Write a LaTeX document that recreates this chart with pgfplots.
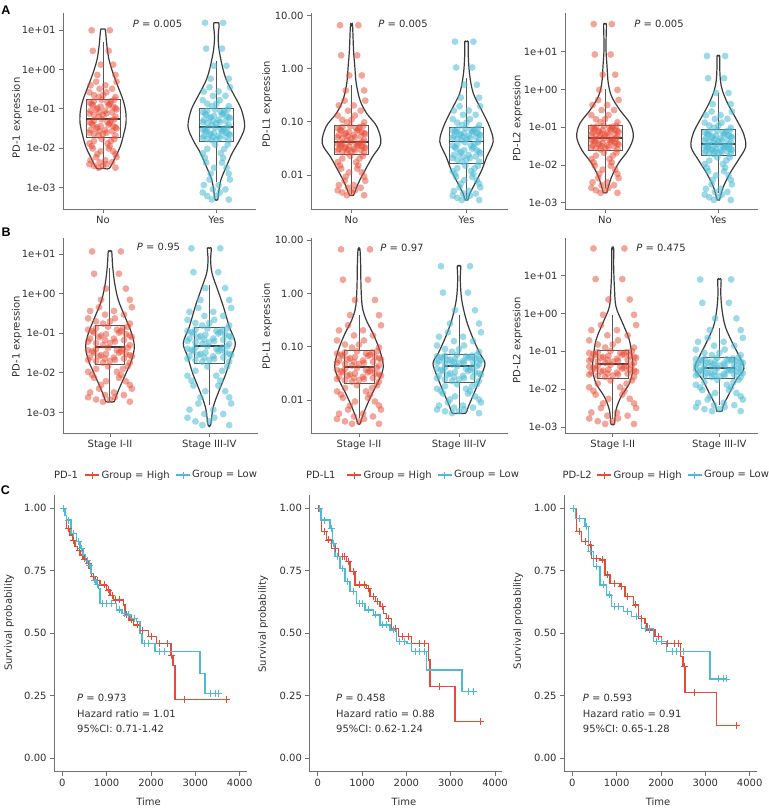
\documentclass[border=0pt]{standalone}
\usepackage{pgfplots}
\pgfplotsset{compat=1.18}
\usepackage{pgfplotstable}
\usepackage{fontspec}
\setmainfont{DejaVu Sans}[ItalicFont={DejaVu Sans Oblique},BoldFont={DejaVu Sans Bold}]
\newfontfamily\labf{Liberation Sans}
\newcommand\fs{\fontsize{10bp}{12bp}\selectfont}
\definecolor{npgred}{HTML}{E64B35}
\definecolor{npgblue}{HTML}{4DBBD5}
\definecolor{axgray}{HTML}{707070}
\definecolor{vgray}{HTML}{3A3A3A}
\definecolor{bgray}{HTML}{555555}
\definecolor{txt}{HTML}{303030}

\pgfplotstableread{
p q r s P Q R S a1n a1y a2n a2y a3n a3y b1n b1y b2n b2y b3n b3y
-0.10 0.90 0.06 1.06 -0.18 0.82 0.11 1.11 1.0 1.19 0.82 0.51 1.73 0.885 1.07 1.15 0.825 0.51 1.72 0.9
0.05 1.05 -0.09 0.91 0.09 1.09 -0.16 0.84 0.475 0.533 0.253 0.024 0.926 0.297 0.506 0.547 0.257 0.015 0.91 0.282
-0.02 0.98 0.09 1.09 -0.04 0.96 0.16 1.16 0.125 0.095 -0.125 -0.30 0.39 -0.095 0.13 0.145 -0.123 -0.315 0.37 -0.13
0.11 1.11 -0.05 0.95 0.20 1.20 -0.09 0.91 -0.138 -0.234 -0.408 -0.543 -0.012 -0.389 -0.152 -0.157 -0.407 -0.563 -0.035 -0.439
-0.06 0.94 0.12 1.12 -0.11 0.89 0.22 1.22 -0.31 -0.45 -0.60 -0.705 -0.28 -0.585 -0.34 -0.358 -0.596 -0.728 -0.305 -0.645
0.02 1.02 -0.11 0.89 0.04 1.04 -0.20 0.80 -0.40 -0.56 -0.69 -0.786 -0.414 -0.683 -0.434 -0.458 -0.691 -0.81 -0.44 -0.748
0.08 1.08 -0.03 0.97 0.14 1.14 -0.05 0.95 -0.49 -0.67 -0.79 -0.867 -0.548 -0.781 -0.528 -0.559 -0.786 -0.893 -0.575 -0.851
-0.12 0.88 0.03 1.03 -0.22 0.78 0.05 1.05 -0.58 -0.78 -0.88 -0.948 -0.682 -0.879 -0.622 -0.659 -0.88 -0.975 -0.71 -0.954
0.00 1.00 -0.08 0.92 0.00 1.00 -0.14 0.86 -0.65 -0.87 -0.96 -1.013 -0.789 -0.957 -0.697 -0.739 -0.956 -1.041 -0.818 -1.036
-0.04 0.96 0.11 1.11 -0.07 0.93 0.20 1.20 -0.70 -0.93 -1.01 -1.061 -0.87 -1.016 -0.754 -0.80 -1.013 -1.091 -0.899 -1.098
0.10 1.10 -0.01 0.99 0.18 1.18 -0.02 0.98 -0.77 -1.02 -1.08 -1.12 -0.963 -1.09 -0.832 -0.878 -1.082 -1.148 -0.994 -1.171
-0.08 0.92 0.07 1.07 -0.14 0.86 0.13 1.13 -0.805 -1.05 -1.10 -1.14 -0.986 -1.116 -0.869 -0.91 -1.104 -1.163 -1.02 -1.19
0.04 1.04 -0.12 0.88 0.07 1.07 -0.22 0.78 -0.84 -1.08 -1.12 -1.16 -1.009 -1.143 -0.907 -0.941 -1.126 -1.178 -1.045 -1.209
-0.10 0.90 0.06 1.06 -0.18 0.82 0.11 1.11 -0.875 -1.115 -1.145 -1.175 -1.033 -1.169 -0.945 -0.973 -1.148 -1.193 -1.07 -1.228
0.05 1.05 -0.09 0.91 0.09 1.09 -0.16 0.84 -0.91 -1.15 -1.165 -1.19 -1.056 -1.195 -0.983 -1.004 -1.169 -1.207 -1.095 -1.246
-0.02 0.98 0.09 1.09 -0.04 0.96 0.16 1.16 -0.945 -1.18 -1.19 -1.21 -1.079 -1.221 -1.021 -1.036 -1.191 -1.222 -1.12 -1.265
0.11 1.11 -0.05 0.95 0.20 1.20 -0.09 0.91 -0.98 -1.21 -1.21 -1.23 -1.102 -1.248 -1.058 -1.067 -1.213 -1.237 -1.146 -1.284
-0.06 0.94 0.12 1.12 -0.11 0.89 0.22 1.22 -1.015 -1.24 -1.23 -1.25 -1.125 -1.274 -1.096 -1.099 -1.234 -1.251 -1.171 -1.303
0.02 1.02 -0.11 0.89 0.04 1.04 -0.20 0.80 -1.05 -1.28 -1.25 -1.265 -1.148 -1.30 -1.134 -1.13 -1.256 -1.266 -1.196 -1.322
0.08 1.08 -0.03 0.97 0.14 1.14 -0.05 0.95 -1.085 -1.31 -1.27 -1.28 -1.171 -1.326 -1.172 -1.162 -1.278 -1.281 -1.221 -1.341
-0.12 0.88 0.03 1.03 -0.22 0.78 0.05 1.05 -1.12 -1.34 -1.29 -1.30 -1.194 -1.353 -1.21 -1.193 -1.299 -1.295 -1.246 -1.36
0.00 1.00 -0.08 0.92 0.00 1.00 -0.14 0.86 -1.155 -1.37 -1.31 -1.32 -1.217 -1.379 -1.247 -1.225 -1.321 -1.31 -1.272 -1.379
-0.04 0.96 0.11 1.11 -0.07 0.93 0.20 1.20 -1.2 -1.41 -1.34 -1.345 -1.247 -1.413 -1.296 -1.265 -1.349 -1.329 -1.304 -1.403
0.10 1.10 -0.01 0.99 0.18 1.18 -0.02 0.98 -1.27 -1.475 -1.38 -1.387 -1.294 -1.462 -1.367 -1.328 -1.392 -1.363 -1.355 -1.441
-0.08 0.92 0.07 1.07 -0.14 0.86 0.13 1.13 -1.30 -1.50 -1.395 -1.416 -1.317 -1.482 -1.398 -1.36 -1.413 -1.385 -1.381 -1.461
0.04 1.04 -0.12 0.88 0.07 1.07 -0.22 0.78 -1.34 -1.53 -1.41 -1.446 -1.341 -1.502 -1.428 -1.391 -1.434 -1.408 -1.407 -1.48
-0.10 0.90 0.06 1.06 -0.18 0.82 0.11 1.11 -1.37 -1.555 -1.43 -1.475 -1.365 -1.523 -1.459 -1.423 -1.455 -1.43 -1.433 -1.5
0.05 1.05 -0.09 0.91 0.09 1.09 -0.16 0.84 -1.40 -1.58 -1.445 -1.504 -1.389 -1.543 -1.489 -1.454 -1.476 -1.452 -1.458 -1.52
-0.02 0.98 0.09 1.09 -0.04 0.96 0.16 1.16 -1.44 -1.61 -1.46 -1.534 -1.413 -1.563 -1.52 -1.486 -1.497 -1.475 -1.484 -1.539
0.11 1.11 -0.05 0.95 0.20 1.20 -0.09 0.91 -1.47 -1.635 -1.475 -1.563 -1.436 -1.583 -1.55 -1.517 -1.518 -1.497 -1.51 -1.559
-0.06 0.94 0.12 1.12 -0.11 0.89 0.22 1.22 -1.50 -1.66 -1.49 -1.593 -1.46 -1.604 -1.581 -1.549 -1.539 -1.52 -1.536 -1.578
0.02 1.02 -0.11 0.89 0.04 1.04 -0.20 0.80 -1.54 -1.69 -1.51 -1.622 -1.484 -1.624 -1.611 -1.58 -1.56 -1.542 -1.562 -1.598
0.08 1.08 -0.03 0.97 0.14 1.14 -0.05 0.95 -1.57 -1.715 -1.525 -1.651 -1.508 -1.644 -1.641 -1.612 -1.581 -1.564 -1.588 -1.618
-0.12 0.88 0.03 1.03 -0.22 0.78 0.05 1.05 -1.61 -1.74 -1.54 -1.681 -1.532 -1.665 -1.672 -1.643 -1.602 -1.587 -1.614 -1.637
0.00 1.00 -0.08 0.92 0.00 1.00 -0.14 0.86 -1.64 -1.77 -1.555 -1.71 -1.555 -1.685 -1.702 -1.675 -1.623 -1.609 -1.64 -1.657
-0.04 0.96 0.11 1.11 -0.07 0.93 0.20 1.20 -1.68 -1.80 -1.575 -1.748 -1.586 -1.711 -1.742 -1.715 -1.65 -1.638 -1.673 -1.682
0.10 1.10 -0.01 0.99 0.18 1.18 -0.02 0.98 -1.77 -1.91 -1.64 -1.824 -1.676 -1.80 -1.832 -1.838 -1.718 -1.699 -1.771 -1.754
-0.08 0.92 0.07 1.07 -0.14 0.86 0.13 1.13 -1.82 -2.02 -1.69 -1.872 -1.754 -1.883 -1.898 -1.947 -1.771 -1.738 -1.855 -1.814
0.04 1.04 -0.12 0.88 0.07 1.07 -0.22 0.78 -1.88 -2.13 -1.76 -1.926 -1.844 -1.978 -1.974 -2.072 -1.832 -1.784 -1.952 -1.884
-0.10 0.90 0.06 1.06 -0.18 0.82 0.11 1.11 -1.95 -2.25 -1.82 -1.98 -1.934 -2.073 -2.05 -2.197 -1.893 -1.83 -2.049 -1.954
0.05 1.05 -0.09 0.91 0.09 1.09 -0.16 0.84 -2.01 -2.37 -1.88 -2.035 -2.023 -2.168 -2.125 -2.322 -1.954 -1.875 -2.146 -2.023
-0.02 0.98 0.09 1.09 -0.04 0.96 0.16 1.16 -2.08 -2.50 -1.95 -2.096 -2.124 -2.276 -2.21 -2.462 -2.022 -1.927 -2.255 -2.102
0.11 1.11 -0.05 0.95 0.20 1.20 -0.09 0.91 -2.15 -2.65 -2.03 -2.164 -2.236 -2.395 -2.305 -2.618 -2.098 -1.984 -2.376 -2.189
-0.06 0.94 0.12 1.12 -0.11 0.89 0.22 1.22 -2.23 -2.80 -2.11 -2.232 -2.348 -2.514 -2.399 -2.774 -2.174 -2.041 -2.497 -2.276
0.02 1.02 -0.11 0.89 0.04 1.04 -0.20 0.80 -2.31 -2.94 -2.19 -2.30 -2.46 -2.633 -2.494 -2.93 -2.25 -2.098 -2.618 -2.363
0.08 1.08 -0.03 0.97 0.14 1.14 -0.05 0.95 -2.36 -3.05 -2.24 -2.35 -2.538 -2.716 -2.56 -3.039 -2.303 -2.137 -2.702 -2.423
-0.12 0.88 0.03 1.03 -0.22 0.78 0.05 1.05 -2.41 -3.13 -2.29 -2.39 -2.606 -2.787 -2.617 -3.133 -2.349 -2.172 -2.775 -2.476
0.00 1.00 -0.08 0.92 0.00 1.00 -0.14 0.86 -2.45 -3.22 -2.33 -2.43 -2.673 -2.859 -2.673 -3.226 -2.394 -2.206 -2.847 -2.528
-0.04 0.96 0.11 1.11 -0.07 0.93 0.20 1.20 -2.5 -3.31 -2.38 -2.47 -2.74 -2.93 -2.73 -3.32 -2.44 -2.24 -2.92 -2.58
}\ptab

\pgfplotsset{
  base/.style={scale only axis, anchor=south west, axis x line*=bottom, axis y line*=left,
    tick align=outside, major tick length=4bp,
    axis line style={draw=axgray, line width=0.8bp},
    tick style={draw=axgray, line width=0.8bp},
    tick label style={font=\fs, text=txt}, label style={font=\fs, text=txt},
    ylabel style={anchor=center}, xlabel style={anchor=center}},
  rowA/.style={height=196bp, xtick={0,1}, xticklabels={No,Yes}},
  rowB/.style={height=195bp, xtick={0,1}, xticklabels={Stage I-II,Stage III-IV}},
  logA/.style={ytick={-3,-2,-1,0,1}, yticklabels={1e-03,1e-02,1e-01,1e+00,1e+01}},
  logB/.style={ytick={-2,-1,0,1}, yticklabels={0.01,0.10,1.00,10.00}},
  rowC/.style={width=193bp, height=276.7bp, xmin=-187, xmax=4165, ymin=-0.054, ymax=1.053,
    xtick={0,1000,2000,3000,4000}, xticklabels={0,1000,2000,3000,4000},
    ytick={0,0.25,0.5,0.75,1}, yticklabels={0.00,0.25,0.50,0.75,1.00},
    xlabel={Time}, ylabel={Survival probability},
    legend columns=-1,
    legend style={draw=none, fill=none, font=\fs, text=txt, inner sep=0pt, anchor=west,
      nodes={inner sep=1.5bp}, /tikz/every even column/.append style={column sep=4bp}},
    legend image code/.code={\draw[mark repeat=2,mark phase=2,##1] plot coordinates {(0bp,0bp) (7bp,0bp) (14bp,0bp)};}},
  dotr/.style={only marks, mark=*, mark size=3.4bp, mark options={draw=npgred, draw opacity=0, fill=npgred, fill opacity=0.5}},
  dotb/.style={only marks, mark=*, mark size=3.4bp, mark options={draw=npgblue, draw opacity=0, fill=npgblue, fill opacity=0.55}},
  vio/.style={draw=vgray, line width=1.2bp, no marks, smooth, tension=0.55},
  boxl/.style={draw=bgray, line width=1bp, no marks},
  medl/.style={draw=vgray, line width=1.9bp, no marks},
  km/.style={line width=1.4bp, const plot, no marks, forget plot},
  cen/.style={only marks, mark=+, mark size=3.5bp, mark options={line width=0.9bp}, forget plot},
}
\newcommand\jit[4]{\addplot[#1] table[x=#2,y=#4]{\ptab};\addplot[#1] table[x=#3,y=#4]{\ptab};}
\newcommand\bx[8]{%
  \addplot[boxl] coordinates {(#1,#5) (#3,#5) (#3,#7) (#1,#7) (#1,#5)};
  \addplot[boxl] coordinates {(#2,#7) (#2,#8)};
  \addplot[boxl] coordinates {(#2,#5) (#2,#4)};
  \addplot[medl] coordinates {(#1,#6) (#3,#6)};}

\begin{document}
\begin{tikzpicture}
\useasboundingbox (0,0) rectangle (769bp,-810bp);

% ---------------- A1
\begin{axis}[base, rowA, logA, at={(63bp,-209bp)}, width=193bp, xmin=-0.353, xmax=1.35, ymin=-3.55, ymax=1.44,
  ylabel={PD-1 expression}, ylabel style={at={(axis description cs:-0.238,0.464)}}]
\jit{dotr}{p}{r}{a1n}
\jit{dotb}{q}{s}{a1y}
\addplot[vio] coordinates {(0,-2.51) (0.057,-2.51) (0.112,-2.21) (0.153,-1.955) (0.185,-1.616) (0.203,-1.36) (0.200,-1.06) (0.176,-0.77) (0.132,-0.43) (0.088,-0.09) (0.053,0.25) (0.035,0.59) (0.024,0.93) (0.018,1.03) (0,1.03) (-0.018,1.03) (-0.024,0.93) (-0.035,0.59) (-0.053,0.25) (-0.088,-0.09) (-0.132,-0.43) (-0.176,-0.77) (-0.200,-1.06) (-0.203,-1.36) (-0.185,-1.616) (-0.153,-1.955) (-0.112,-2.21) (-0.057,-2.51) (0,-2.51)};
\addplot[vio] coordinates {(1,-3.31) (1.012,-3.31) (1.024,-3.06) (1.041,-2.8) (1.088,-2.47) (1.141,-2.12) (1.206,-1.79) (1.25,-1.45) (1.221,-1.02) (1.147,-0.6) (1.088,-0.26) (1.053,0.08) (1.024,0.51) (1.016,0.85) (1.024,1.1) (1.02,1.19) (1,1.19) (0.98,1.19) (0.976,1.1) (0.984,0.85) (0.976,0.51) (0.947,0.08) (0.912,-0.26) (0.853,-0.6) (0.779,-1.02) (0.75,-1.45) (0.794,-1.79) (0.859,-2.12) (0.912,-2.47) (0.959,-2.8) (0.976,-3.06) (0.988,-3.31) (1,-3.31)};
\bx{-0.15}{0}{0.15}{-2.5}{-1.726}{-1.25}{-0.75}{0.7}
\bx{0.85}{1}{1.15}{-2.85}{-1.84}{-1.46}{-1.0}{0.21}
\end{axis}

% ---------------- A2
\begin{axis}[base, rowA, logB, at={(311bp,-209bp)}, width=197bp, xmin=-0.352, xmax=1.361, ymin=-2.64, ymax=1.05,
  ylabel={PD-L1 expression}, ylabel style={at={(axis description cs:-0.223,0.536)}}]
\jit{dotr}{p}{r}{a2n}
\jit{dotb}{q}{s}{a2y}
\addplot[vio] coordinates {(0,-2.38) (0.018,-2.38) (0.041,-2.25) (0.074,-2.09) (0.118,-1.91) (0.182,-1.66) (0.255,-1.40) (0.221,-1.09) (0.132,-0.84) (0.074,-0.59) (0.041,-0.27) (0.029,0.04) (0.018,0.35) (0.009,0.82) (0,0.82) (-0.009,0.82) (-0.018,0.35) (-0.029,0.04) (-0.041,-0.27) (-0.074,-0.59) (-0.132,-0.84) (-0.221,-1.09) (-0.255,-1.40) (-0.182,-1.66) (-0.118,-1.91) (-0.074,-2.09) (-0.041,-2.25) (-0.018,-2.38) (0,-2.38)};
\addplot[vio] coordinates {(1,-2.47) (1.012,-2.47) (1.029,-2.35) (1.074,-2.16) (1.132,-1.91) (1.176,-1.66) (1.232,-1.37) (1.2,-1.09) (1.132,-0.78) (1.059,-0.46) (1.026,-0.09) (1.015,0.29) (1.015,0.51) (1,0.51) (0.985,0.51) (0.985,0.29) (0.974,-0.09) (0.941,-0.46) (0.868,-0.78) (0.8,-1.09) (0.768,-1.37) (0.824,-1.66) (0.868,-1.91) (0.926,-2.16) (0.971,-2.35) (0.988,-2.47) (1,-2.47)};
\bx{-0.15}{0}{0.15}{-2.35}{-1.605}{-1.373}{-1.07}{-0.3}
\bx{0.85}{1}{1.15}{-2.46}{-1.79}{-1.37}{-1.11}{-0.18}
\end{axis}

% ---------------- A3
\begin{axis}[base, rowA, logA, at={(565bp,-209bp)}, width=193bp, xmin=-0.353, xmax=1.35, ymin=-3.168, ymax=2.024,
  ylabel={PD-L2 expression}, ylabel style={at={(axis description cs:-0.246,0.464)}}]
\jit{dotr}{p}{r}{a3n}
\jit{dotb}{q}{s}{a3y}
\addplot[vio] coordinates {(0,-2.74) (0.015,-2.74) (0.029,-2.58) (0.059,-2.31) (0.118,-1.96) (0.206,-1.60) (0.25,-1.25) (0.221,-0.90) (0.132,-0.55) (0.059,-0.19) (0.029,0.16) (0.018,0.60) (0.009,1.04) (0.01,1.4) (0.012,1.73) (0,1.73) (-0.012,1.73) (-0.01,1.4) (-0.009,1.04) (-0.018,0.60) (-0.029,0.16) (-0.059,-0.19) (-0.132,-0.55) (-0.221,-0.90) (-0.25,-1.25) (-0.206,-1.60) (-0.118,-1.96) (-0.059,-2.31) (-0.029,-2.58) (-0.015,-2.74) (0,-2.74)};
\addplot[vio] coordinates {(1,-2.93) (1.009,-2.93) (1.018,-2.84) (1.044,-2.58) (1.103,-2.22) (1.176,-1.87) (1.241,-1.52) (1.221,-1.16) (1.162,-0.81) (1.082,-0.37) (1.035,-0.02) (1.018,0.25) (1.012,0.6) (1.012,0.885) (1,0.885) (0.988,0.885) (0.988,0.6) (0.982,0.25) (0.965,-0.02) (0.918,-0.37) (0.838,-0.81) (0.779,-1.16) (0.759,-1.52) (0.824,-1.87) (0.897,-2.22) (0.956,-2.58) (0.982,-2.84) (0.991,-2.93) (1,-2.93)};
\bx{-0.15}{0}{0.15}{-2.6}{-1.62}{-1.28}{-0.95}{0.0}
\bx{0.85}{1}{1.15}{-2.75}{-1.74}{-1.45}{-1.075}{-0.1}
\end{axis}

% ---------------- B1
\begin{axis}[base, rowB, logA, at={(63bp,-433bp)}, width=195bp, xmin=-0.473, xmax=1.49, ymin=-3.52, ymax=1.41,
  ylabel={PD-1 expression}, ylabel style={at={(axis description cs:-0.236,0.494)}}]
\jit{dotr}{P}{R}{b1n}
\jit{dotb}{Q}{S}{b1y}
\addplot[vio] coordinates {(0,-2.73) (0.04,-2.73) (0.06,-2.6) (0.101,-2.35) (0.161,-2.01) (0.218,-1.675) (0.245,-1.34) (0.218,-1.0) (0.151,-0.58) (0.084,-0.16) (0.047,0.27) (0.027,0.69) (0.017,1.07) (0,1.07) (-0.017,1.07) (-0.027,0.69) (-0.047,0.27) (-0.084,-0.16) (-0.151,-0.58) (-0.218,-1.0) (-0.245,-1.34) (-0.218,-1.675) (-0.161,-2.01) (-0.101,-2.35) (-0.06,-2.6) (-0.04,-2.73) (0,-2.73)};
\addplot[vio] coordinates {(1,-3.32) (1.013,-3.32) (1.04,-2.86) (1.101,-2.43) (1.168,-2.01) (1.218,-1.59) (1.262,-1.25) (1.201,-0.83) (1.141,-0.32) (1.084,0.1) (1.027,0.52) (1.013,0.86) (1.02,1.15) (1,1.15) (0.98,1.15) (0.987,0.86) (0.973,0.52) (0.916,0.1) (0.859,-0.32) (0.799,-0.83) (0.738,-1.25) (0.782,-1.59) (0.832,-2.01) (0.899,-2.43) (0.96,-2.86) (0.987,-3.32) (1,-3.32)};
\bx{-0.15}{0}{0.15}{-2.73}{-1.785}{-1.354}{-0.806}{0.645}
\bx{0.85}{1}{1.15}{-2.81}{-1.76}{-1.31}{-0.857}{0.22}
\end{axis}

% ---------------- B2
\begin{axis}[base, rowB, logB, at={(311bp,-433bp)}, width=197bp, xmin=-0.48, xmax=1.49, ymin=-2.612, ymax=1.037,
  ylabel={PD-L1 expression}, ylabel style={at={(axis description cs:-0.223,0.545)}}]
\jit{dotr}{P}{R}{b2n}
\jit{dotb}{Q}{S}{b2y}
\addplot[vio] coordinates {(0,-2.44) (0.01,-2.44) (0.033,-2.31) (0.073,-2.12) (0.133,-1.87) (0.2,-1.62) (0.243,-1.37) (0.207,-1.06) (0.14,-0.75) (0.073,-0.5) (0.033,-0.25) (0.02,0.13) (0.017,0.5) (0.01,0.825) (0,0.825) (-0.01,0.825) (-0.017,0.5) (-0.02,0.13) (-0.033,-0.25) (-0.073,-0.5) (-0.14,-0.75) (-0.207,-1.06) (-0.243,-1.37) (-0.2,-1.62) (-0.133,-1.87) (-0.073,-2.12) (-0.033,-2.31) (-0.01,-2.44) (0,-2.44)};
\addplot[vio] coordinates {(1,-2.24) (1.067,-2.24) (1.093,-2.12) (1.15,-1.87) (1.217,-1.56) (1.26,-1.31) (1.207,-1.12) (1.133,-0.81) (1.073,-0.5) (1.027,-0.12) (1.013,0.25) (1.017,0.51) (1,0.51) (0.983,0.51) (0.987,0.25) (0.973,-0.12) (0.927,-0.5) (0.867,-0.81) (0.793,-1.12) (0.74,-1.31) (0.783,-1.56) (0.85,-1.87) (0.907,-2.12) (0.933,-2.24) (1,-2.24)};
\bx{-0.15}{0}{0.15}{-2.34}{-1.68}{-1.38}{-1.07}{-0.40}
\bx{0.85}{1}{1.15}{-2.24}{-1.67}{-1.35}{-1.14}{-0.40}
\end{axis}

% ---------------- B3
\begin{axis}[base, rowB, logA, at={(565bp,-433bp)}, width=193bp, xmin=-0.447, xmax=1.362, ymin=-3.159, ymax=1.996,
  ylabel={PD-L2 expression}, ylabel style={at={(axis description cs:-0.246,0.477)}}]
\jit{dotr}{P}{R}{b3n}
\jit{dotb}{Q}{S}{b3y}
\addplot[vio] coordinates {(0,-2.92) (0.016,-2.92) (0.031,-2.55) (0.078,-2.2) (0.156,-1.85) (0.188,-1.49) (0.181,-1.14) (0.156,-0.7) (0.094,-0.26) (0.031,0.18) (0.016,0.71) (0.009,1.24) (0.009,1.72) (0,1.72) (-0.009,1.72) (-0.009,1.24) (-0.016,0.71) (-0.031,0.18) (-0.094,-0.26) (-0.156,-0.7) (-0.181,-1.14) (-0.188,-1.49) (-0.156,-1.85) (-0.078,-2.2) (-0.031,-2.55) (-0.016,-2.92) (0,-2.92)};
\addplot[vio] coordinates {(1,-2.58) (1.025,-2.58) (1.038,-2.42) (1.094,-2.11) (1.156,-1.76) (1.23,-1.45) (1.188,-1.14) (1.125,-0.79) (1.056,-0.35) (1.025,0.09) (1.013,0.53) (1.016,0.9) (1,0.9) (0.984,0.9) (0.987,0.53) (0.975,0.09) (0.944,-0.35) (0.875,-0.79) (0.812,-1.14) (0.77,-1.45) (0.844,-1.76) (0.906,-2.11) (0.962,-2.42) (0.975,-2.58) (1,-2.58)};
\bx{-0.145}{0}{0.145}{-2.8}{-1.71}{-1.34}{-0.98}{-0.04}
\bx{0.855}{1}{1.145}{-2.42}{-1.71}{-1.43}{-1.16}{-0.37}
\end{axis}

% ---------------- C1
\begin{axis}[base, rowC, at={(54bp,-771.7bp)},
  ylabel style={at={(axis description cs:-0.233,0.539)}}, xlabel style={at={(axis description cs:0.49,-0.108)}},
  legend style={at={(axis description cs:0.158,1.0723)}}]
\addplot[km, npgred] coordinates {(0,1) (50,0.97) (100,0.92) (170,0.893) (230,0.87) (285,0.847) (340,0.83) (400,0.813) (470,0.797) (550,0.78) (600,0.76) (660,0.727) (750,0.71) (850,0.693) (1000,0.673) (1080,0.65) (1150,0.633) (1380,0.613) (1410,0.573) (1500,0.553) (1600,0.533) (1750,0.51) (1940,0.487) (2130,0.46) (2450,0.41) (2500,0.37) (2540,0.236) (3700,0.236)};
\addplot[km, npgblue] coordinates {(0,1) (60,0.97) (100,0.953) (200,0.9) (320,0.867) (400,0.84) (470,0.813) (530,0.79) (590,0.773) (650,0.74) (700,0.713) (760,0.695) (810,0.68) (850,0.62) (1225,0.593) (1350,0.58) (1450,0.573) (1550,0.56) (1680,0.547) (1750,0.5) (1800,0.46) (2090,0.427) (3105,0.34) (3220,0.26) (3520,0.26)};
\addplot[cen, npgred] coordinates {(20,1.0) (150,0.92) (260,0.87) (380,0.83) (500,0.797) (580,0.78) (700,0.727) (800,0.71) (950,0.693) (1050,0.673) (1120,0.65) (1200,0.633) (1300,0.633) (1450,0.573) (1550,0.553) (1700,0.533) (1800,0.51) (2000,0.487) (2200,0.46) (2380,0.46) (2470,0.41) (2750,0.236) (3700,0.236)};
\addplot[cen, npgblue] coordinates {(30,1.0) (150,0.953) (260,0.9) (360,0.867) (430,0.84) (560,0.79) (620,0.773) (730,0.713) (790,0.695) (900,0.62) (1000,0.62) (1100,0.62) (1300,0.593) (1400,0.58) (1500,0.573) (1620,0.56) (1850,0.46) (1950,0.46) (2200,0.427) (2300,0.427) (3350,0.26) (3450,0.26) (3520,0.26)};
\addlegendimage{npgred, line width=1.4bp, mark=+, mark size=3.5bp, mark options={line width=0.9bp}}
\addlegendentry{Group = High}
\addlegendimage{npgblue, line width=1.4bp, mark=+, mark size=3.5bp, mark options={line width=0.9bp}}
\addlegendentry{Group = Low}
\end{axis}

% ---------------- C2
\begin{axis}[base, rowC, at={(309.4bp,-771.7bp)},
  ylabel style={at={(axis description cs:-0.24,0.534)}}, xlabel style={at={(axis description cs:0.49,-0.108)}},
  legend style={at={(axis description cs:0.192,1.0723)}}]
\addplot[km, npgred] coordinates {(0,1) (90,0.907) (200,0.873) (315,0.84) (465,0.807) (655,0.787) (730,0.747) (840,0.693) (1105,0.68) (1180,0.647) (1300,0.627) (1405,0.607) (1480,0.58) (1555,0.56) (1670,0.52) (1820,0.487) (2120,0.46) (2500,0.393) (2535,0.287) (3100,0.147) (3660,0.147)};
\addplot[km, npgblue] coordinates {(0,1) (70,0.953) (280,0.92) (330,0.86) (390,0.807) (505,0.76) (615,0.707) (730,0.667) (880,0.62) (1070,0.593) (1255,0.573) (1405,0.533) (1630,0.513) (1780,0.467) (2010,0.46) (2120,0.427) (2460,0.353) (3250,0.267) (3510,0.267)};
\addplot[cen, npgred] coordinates {(20,1.0) (150,0.907) (250,0.873) (400,0.84) (550,0.807) (600,0.807) (700,0.787) (800,0.747) (950,0.693) (1050,0.693) (1150,0.68) (1250,0.647) (1350,0.627) (1450,0.607) (1600,0.56) (1750,0.52) (1900,0.487) (2050,0.487) (2300,0.46) (2400,0.46) (2750,0.287) (3660,0.147)};
\addplot[cen, npgblue] coordinates {(30,1.0) (150,0.953) (300,0.92) (360,0.86) (450,0.807) (560,0.76) (680,0.707) (800,0.667) (950,0.62) (1000,0.62) (1150,0.593) (1300,0.573) (1450,0.533) (1550,0.533) (1700,0.513) (1850,0.467) (1950,0.467) (2200,0.427) (2300,0.427) (2400,0.427) (3400,0.267) (3510,0.267)};
\addlegendimage{npgred, line width=1.4bp, mark=+, mark size=3.5bp, mark options={line width=0.9bp}}
\addlegendentry{Group = High}
\addlegendimage{npgblue, line width=1.4bp, mark=+, mark size=3.5bp, mark options={line width=0.9bp}}
\addlegendentry{Group = Low}
\end{axis}

% ---------------- C3
\begin{axis}[base, rowC, at={(564bp,-771.7bp)},
  ylabel style={at={(axis description cs:-0.238,0.545)}}, xlabel style={at={(axis description cs:0.487,-0.108)}},
  legend style={at={(axis description cs:0.168,1.0723)}}]
\addplot[km, npgred] coordinates {(0,1) (100,0.907) (210,0.867) (360,0.853) (435,0.8) (625,0.793) (735,0.733) (850,0.7) (1075,0.687) (1190,0.647) (1375,0.613) (1490,0.56) (1640,0.54) (1680,0.513) (1865,0.487) (2015,0.46) (2445,0.407) (2500,0.367) (2540,0.263) (3255,0.13) (3705,0.13)};
\addplot[km, npgblue] coordinates {(0,1) (75,0.96) (285,0.927) (360,0.827) (475,0.767) (625,0.693) (775,0.653) (890,0.607) (1150,0.587) (1340,0.567) (1565,0.52) (1825,0.467) (2130,0.427) (3105,0.317) (3480,0.317)};
\addplot[cen, npgred] coordinates {(20,1.0) (150,0.907) (300,0.867) (400,0.853) (550,0.8) (680,0.793) (800,0.733) (950,0.7) (1100,0.687) (1250,0.647) (1420,0.613) (1550,0.56) (1750,0.513) (1950,0.487) (2150,0.46) (2300,0.46) (2400,0.46) (2520,0.367) (2750,0.263) (3705,0.13)};
\addplot[cen, npgblue] coordinates {(30,1.0) (150,0.96) (320,0.927) (420,0.827) (550,0.767) (700,0.693) (830,0.653) (950,0.607) (1050,0.607) (1250,0.587) (1450,0.567) (1650,0.52) (1750,0.52) (1900,0.467) (2000,0.467) (2250,0.427) (2350,0.427) (2500,0.427) (3300,0.317) (3400,0.317) (3480,0.317)};
\addlegendimage{npgred, line width=1.4bp, mark=+, mark size=3.5bp, mark options={line width=0.9bp}}
\addlegendentry{Group = High}
\addlegendimage{npgblue, line width=1.4bp, mark=+, mark size=3.5bp, mark options={line width=0.9bp}}
\addlegendentry{Group = Low}
\end{axis}

% ---------------- texts
\begin{scope}[every node/.style={font=\fs, text=txt, inner sep=0pt}]
\node at (157.5bp,-24bp) {\textit{P} = 0.005};
\node at (403bp,-24bp) {\textit{P} = 0.005};
\node at (659bp,-24bp) {\textit{P} = 0.005};
\node at (158.5bp,-247.3bp) {\textit{P} = 0.95};
\node at (402bp,-248.3bp) {\textit{P} = 0.97};
\node at (661bp,-248bp) {\textit{P} = 0.475};
\node[anchor=west] at (77bp,-698.3bp) {\textit{P} = 0.973};
\node[anchor=west] at (77bp,-713.8bp) {Hazard ratio = 1.01};
\node[anchor=west] at (77bp,-729.3bp) {95\%CI: 0.71-1.42};
\node[anchor=west] at (336bp,-698.3bp) {\textit{P} = 0.458};
\node[anchor=west] at (336bp,-713.8bp) {Hazard ratio = 0.88};
\node[anchor=west] at (336bp,-729.3bp) {95\%CI: 0.62-1.24};
\node[anchor=west] at (582.7bp,-698.3bp) {\textit{P} = 0.593};
\node[anchor=west] at (582.7bp,-713.8bp) {Hazard ratio = 0.91};
\node[anchor=west] at (582.7bp,-729.3bp) {95\%CI: 0.65-1.28};
\node[anchor=west] at (54bp,-475bp) {PD-1};
\node[anchor=west] at (306bp,-475bp) {PD-L1};
\node[anchor=west] at (562.3bp,-475bp) {PD-L2};
\end{scope}
\begin{scope}[every node/.style={font=\labf\fontsize{12.5bp}{14bp}\selectfont\bfseries, text=black, inner sep=0pt}]
\node at (5.8bp,-9.8bp) {A};
\node at (6.2bp,-231.7bp) {B};
\node at (5.5bp,-490bp) {C};
\end{scope}
\end{tikzpicture}
\end{document}
